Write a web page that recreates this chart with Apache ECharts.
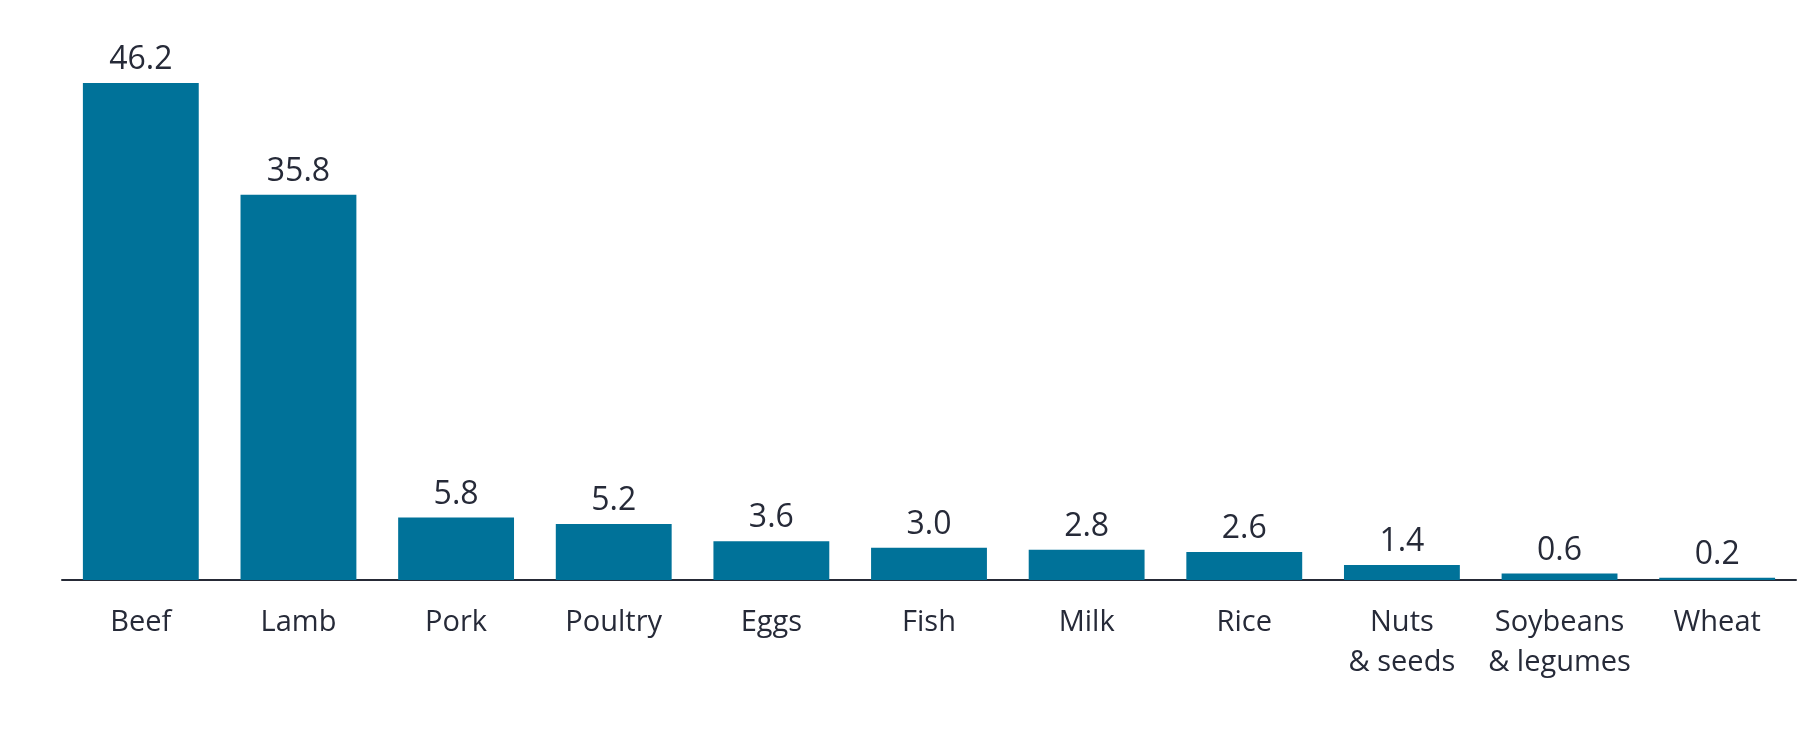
<!DOCTYPE html>
<html>
<head>
<meta charset="utf-8">
<script src="https://cdn.jsdelivr.net/npm/echarts@6/dist/echarts.min.js"></script>
<style>
html,body{margin:0;padding:0;background:#fff;}
#chart{width:1819px;height:734px;}
</style>
</head>
<body>
<div id="chart"></div>
<script>
const categories = ["Beef", "Lamb", "Pork", "Poultry", "Eggs", "Fish", "Milk", "Rice", "Nuts\n& seeds", "Soybeans\n& legumes", "Wheat"];
const values = [46.2, 35.8, 5.8, 5.2, 3.6, 3.0, 2.8, 2.6, 1.4, 0.6, 0.2];

const chart = echarts.init(document.getElementById('chart'));
chart.setOption({
  animation: false,
  backgroundColor: '#ffffff',
  grid: { left: 62, right: 23, top: 42, bottom: 154, containLabel: false },
  xAxis: {
    type: 'category',
    data: categories,
    axisLine: { show: true, lineStyle: { color: '#262a36', width: 2 } },
    axisTick: { show: false },
    axisLabel: {
      color: '#262a38',
      fontFamily: 'Open Sans',
      fontSize: 29,
      lineHeight: 40,
      margin: 23,
      interval: 0
    }
  },
  yAxis: {
    type: 'value',
    min: 0,
    max: 50,
    show: false,
    splitLine: { show: false }
  },
  series: [{
    type: 'bar',
    data: values,
    barCategoryGap: '26.5%',
    itemStyle: { color: '#007299' },
    label: {
      show: true,
      position: 'top',
      distance: 7,
      color: '#262a38',
      fontFamily: 'Open Sans',
      fontSize: 32,
      formatter: p => p.value.toFixed(1)
    }
  }]
});
</script>
</body>
</html>
